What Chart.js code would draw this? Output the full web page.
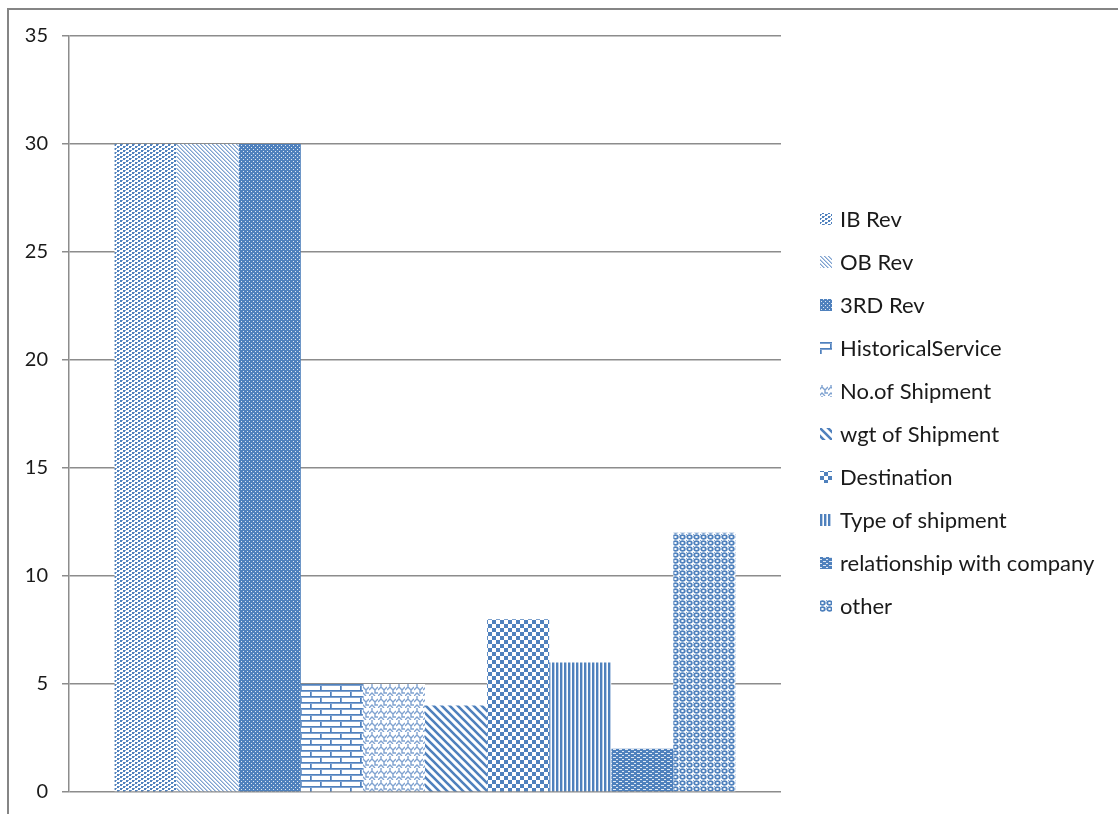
<!DOCTYPE html>
<html>
<head>
<meta charset="utf-8">
<script src="https://cdn.jsdelivr.net/npm/chart.js@4/dist/chart.umd.min.js"></script>
<style>
  html, body { margin: 0; padding: 0; background: #ffffff; }
  #wrap { position: relative; width: 1118px; height: 814px; }
</style>
</head>
<body>
<div id="wrap"><canvas id="chart" width="1118" height="814"></canvas></div>
<script>
// Factors and their scores
const categories = [''];
const seriesNames = [
  'IB Rev', 'OB Rev', '3RD Rev', 'HistoricalService', 'No.of Shipment',
  'wgt of Shipment', 'Destination', 'Type of shipment',
  'relationship with company', 'other'
];
const seriesValues = [30, 30, 30, 5, 5, 4, 8, 6, 2, 12];
const yTicks = [0, 5, 10, 15, 20, 25, 30, 35];

const BLUE = '#4f81bd';
const MID = '#7fa2d0';
const LIGHT = '#b9cde6';

// Small tile painters for each hatch fill
function tile(w, h, paint) {
  const c = document.createElement('canvas');
  c.width = w; c.height = h;
  const g = c.getContext('2d');
  g.fillStyle = '#ffffff';
  g.fillRect(0, 0, w, h);
  paint(g, w, h);
  return document.createElement('canvas').getContext('2d').createPattern(c, 'repeat');
}

const painters = [
  // dotted grid
  g => {
    g.fillStyle = BLUE;
    g.fillRect(0, 0, 2, 2); g.fillRect(3, 2, 2, 2);
    g.fillStyle = MID;
    g.fillRect(2, 0, 1, 1); g.fillRect(5, 2, 1, 1);
  },
  // light downward diagonal
  g => {
    for (let i = 0; i < 4; i++) {
      g.fillStyle = MID; g.fillRect(i, i, 1, 1);
      g.fillStyle = LIGHT; g.fillRect((i + 1) % 4, i, 1, 1);
    }
  },
  // dense blue with white dots
  g => {
    g.fillStyle = BLUE; g.fillRect(0, 0, 4, 4);
    g.fillStyle = '#dfe8f3';
    g.fillRect(1, 1, 1, 1); g.fillRect(3, 3, 1, 1);
  },
  // horizontal brick
  g => {
    g.fillStyle = BLUE;
    g.fillRect(0, 0, 20, 1); g.fillRect(0, 6, 20, 1);
    g.fillRect(0, 0, 1, 6); g.fillRect(10, 6, 1, 6);
    g.fillStyle = MID;
    g.fillRect(0, 1, 20, 1); g.fillRect(0, 7, 20, 1);
    g.fillRect(1, 1, 1, 5); g.fillRect(11, 7, 1, 5);
  },
  // zigzag weave
  g => {
    g.strokeStyle = MID; g.lineWidth = 1.4;
    g.beginPath();
    g.moveTo(0, 6); g.lineTo(3, 3); g.lineTo(6, 6); g.lineTo(9, 3);
    g.moveTo(3, 3); g.lineTo(3, 0);
    g.moveTo(0, 12); g.lineTo(3, 9); g.lineTo(6, 12);
    g.moveTo(6, 6); g.lineTo(6, 9); g.lineTo(9, 9);
    g.stroke();
  },
  // wide downward diagonal
  g => {
    g.strokeStyle = BLUE; g.lineWidth = 2.6;
    g.beginPath();
    for (let k = -1; k <= 1; k++) { g.moveTo(-2, k * 8 - 2); g.lineTo(10, k * 8 + 10); }
    g.stroke();
  },
  // large checkerboard
  g => {
    g.fillStyle = BLUE;
    g.fillRect(0, 0, 4, 4); g.fillRect(4, 4, 4, 4);
  },
  // vertical stripes
  g => {
    g.fillStyle = BLUE; g.fillRect(0, 0, 2, 4);
    g.fillStyle = LIGHT; g.fillRect(2, 0, 1, 4);
  },
  // small grid
  g => {
    g.fillStyle = BLUE; g.fillRect(0, 0, 6, 4);
    g.fillStyle = '#dfe8f3';
    g.fillRect(1, 1, 3, 1); g.fillRect(4, 3, 2, 1);
  },
  // ring spheres
  g => {
    g.strokeStyle = BLUE; g.lineWidth = 1.8;
    g.beginPath(); g.ellipse(3.5, 3, 2.3, 1.8, 0, 0, Math.PI * 2); g.stroke();
    g.fillStyle = MID; g.fillRect(0, 0, 1, 1);
  }
];
const tileSizes = [[6, 4], [4, 4], [4, 4], [20, 12], [9, 12], [8, 8], [8, 8], [4, 4], [6, 4], [7, 6]];
const fills = painters.map((p, i) => tile(tileSizes[i][0], tileSizes[i][1], p));

const FONT = 'Lato, "Open Sans", sans-serif';

// Outer chart frame
const framePlugin = {
  id: 'frame',
  beforeDraw(chart) {
    const ctx = chart.ctx;
    ctx.save();
    ctx.strokeStyle = '#858585';
    ctx.lineWidth = 2;
    ctx.strokeRect(8, 9, 1300, 1000);
    ctx.restore();
  }
};

// Vertical legend beside the plot
const legendPlugin = {
  id: 'sideLegend',
  afterDraw(chart) {
    const ctx = chart.ctx;
    const area = chart.chartArea;
    const x0 = area.right + 39;
    const startY = 219, step = 43;
    ctx.save();
    ctx.font = '22px ' + FONT;
    ctx.textBaseline = 'middle';
    ctx.textAlign = 'left';
    chart.data.datasets.forEach((ds, i) => {
      const y = startY + i * step;
      ctx.fillStyle = ds.backgroundColor;
      ctx.fillRect(x0, y - 6, 12, 12);
      ctx.fillStyle = '#1a1a1a';
      ctx.fillText(ds.label, x0 + 20, y + 1);
    });
    ctx.restore();
  }
};

new Chart(document.getElementById('chart'), {
  type: 'bar',
  data: {
    labels: categories,
    datasets: seriesNames.map((name, i) => ({
      label: name,
      data: [seriesValues[i]],
      backgroundColor: fills[i],
      borderWidth: 0,
      categoryPercentage: 0.872,
      barPercentage: 1
    }))
  },
  options: {
    responsive: false,
    animation: false,
    devicePixelRatio: 1,
    layout: { padding: { left: 0, top: 36, right: 337, bottom: 22 } },
    plugins: {
      legend: { display: false },
      tooltip: { enabled: false }
    },
    scales: {
      x: {
        display: false
      },
      y: {
        min: 0,
        max: 35,
        afterBuildTicks(s) { s.ticks = yTicks.map(v => ({ value: v })); },
        grid: { color: '#8c8c8c', lineWidth: 1.5, tickLength: 7, drawTicks: true },
        border: { display: true, color: '#8c8c8c', width: 1.5 },
        ticks: {
          padding: 14,
          color: '#1a1a1a',
          font: { family: FONT, size: 20 }
        },
        afterFit(s) {
          s.width = 69;
          s.paddingTop = 0;
          s.paddingBottom = 0;
        }
      }
    }
  },
  plugins: [framePlugin, legendPlugin]
});
</script>
</body>
</html>
